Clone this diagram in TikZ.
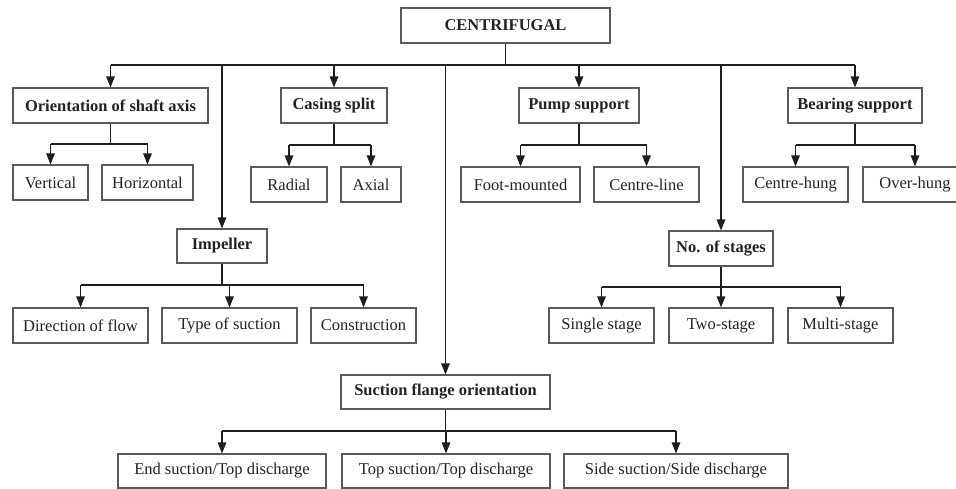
\documentclass[tikz,border=0pt]{standalone}
\usepackage{fontspec}
\setmainfont{Liberation Serif}
\usetikzlibrary{arrows.meta}
\definecolor{boxline}{HTML}{5A5A5A}
\definecolor{conn}{HTML}{1E1E1E}
\definecolor{txt}{HTML}{222222}
\tikzset{
  box/.style={draw=boxline, line width=1.1pt, rectangle, inner sep=0pt, text=txt,
    font=\fontsize{16.5}{19}\selectfont, minimum height=35pt},
  hd/.style={box, font=\fontsize{16.5}{19}\selectfont\bfseries},
  ln/.style={draw=conn, line width=1.3pt},
  arr/.style={ln, -{Triangle[width=8.5pt,length=11pt]}}
}
\begin{document}
\begin{tikzpicture}[x=1pt,y=-1pt]
\useasboundingbox[fill=white] (0,0) rectangle (956,489);
% top
\node[hd, minimum width=209pt] (root) at (505.5,25.5) {CENTRIFUGAL};
\node[hd, minimum width=195pt] (orient) at (110.5,105.5) {Orientation of shaft axis};
\node[hd, minimum width=106pt] (casing) at (334,105.5) {Casing split};
\node[hd, minimum width=120pt] (pump) at (579,105.5) {Pump support};
\node[hd, minimum width=134pt] (bearing) at (855,105.5) {Bearing support};
\node[hd, minimum width=90pt, minimum height=34pt] (impeller) at (222,246) {Impeller};
\node[hd, minimum width=104pt] (stages) at (721,248.5) {No. of stages};
\node[hd, minimum width=209pt, minimum height=34pt] (suction) at (445.5,392) {Suction flange orientation};
% leaves
\node[box, minimum width=75pt] (vert) at (50.5,182.5) {Vertical};
\node[box, minimum width=91pt] (horiz) at (147.5,182.5) {Horizontal};
\node[box, minimum width=76pt] (radial) at (289,184.5) {Radial};
\node[box, minimum width=60pt] (axial) at (371,184.5) {Axial};
\node[box, minimum width=119pt] (foot) at (520.5,184.5) {Foot-mounted};
\node[box, minimum width=105pt] (cline) at (646.5,184.5) {Centre-line};
\node[box, minimum width=105pt] (chung) at (795.5,184.5) {Centre-hung};
\node[box, minimum width=104pt] (ohung) at (915,184.5) {Over-hung};
\node[box, minimum width=135pt] (dir) at (80.5,325.5) {Direction of flow};
\node[box, minimum width=135pt] (type) at (229.5,325.5) {Type of suction};
\node[box, minimum width=105pt] (constr) at (363.5,325.5) {Construction};
\node[box, minimum width=105pt] (single) at (601.5,325.5) {Single stage};
\node[box, minimum width=104pt] (two) at (721,325.5) {Two-stage};
\node[box, minimum width=105pt] (multi) at (840.5,325.5) {Multi-stage};
\node[box, minimum width=208pt, minimum height=34pt] (endsuc) at (222,471) {End suction/Top discharge};
\node[box, minimum width=208pt, minimum height=34pt] (topsuc) at (446,471) {Top suction/Top discharge};
\node[box, minimum width=224pt, minimum height=34pt] (sidesuc) at (676,471) {Side suction/Side discharge};
% main bus
\draw[ln] (root.south) -- (root.south |- 0,65);
\draw[ln] (orient.north |- 0,65) -- (bearing.north |- 0,65);
\draw[arr] (orient.north |- 0,65) -- (orient.north);
\draw[arr] (casing.north |- 0,65) -- (casing.north);
\draw[arr] (pump.north |- 0,65) -- (pump.north);
\draw[arr] (bearing.north |- 0,65) -- (bearing.north);
\draw[arr] (impeller.north |- 0,65) -- (impeller.north);
\draw[arr] (suction.north |- 0,65) -- (suction.north);
\draw[arr] (stages.north |- 0,65) -- (stages.north);
% orientation
\draw[ln] (orient.south) -- (orient.south |- 0,144);
\draw[ln] (vert.north |- 0,144) -- (horiz.north |- 0,144);
\draw[arr] (vert.north |- 0,144) -- (vert.north);
\draw[arr] (horiz.north |- 0,144) -- (horiz.north);
% casing
\draw[ln] (casing.south) -- (casing.south |- 0,145);
\draw[ln] (radial.north |- 0,145) -- (axial.north |- 0,145);
\draw[arr] (radial.north |- 0,145) -- (radial.north);
\draw[arr] (axial.north |- 0,145) -- (axial.north);
% pump
\draw[ln] (pump.south) -- (pump.south |- 0,145);
\draw[ln] (foot.north |- 0,145) -- (cline.north |- 0,145);
\draw[arr] (foot.north |- 0,145) -- (foot.north);
\draw[arr] (cline.north |- 0,145) -- (cline.north);
% bearing
\draw[ln] (bearing.south) -- (bearing.south |- 0,145);
\draw[ln] (chung.north |- 0,145) -- (ohung.north |- 0,145);
\draw[arr] (chung.north |- 0,145) -- (chung.north);
\draw[arr] (ohung.north |- 0,145) -- (ohung.north);
% impeller
\draw[ln] (impeller.south) -- (impeller.south |- 0,285);
\draw[ln] (dir.north |- 0,285) -- (constr.north |- 0,285);
\draw[arr] (dir.north |- 0,285) -- (dir.north);
\draw[arr] (type.north |- 0,285) -- (type.north);
\draw[arr] (constr.north |- 0,285) -- (constr.north);
% stages
\draw[ln] (stages.south) -- (stages.south |- 0,287);
\draw[ln] (single.north |- 0,287) -- (multi.north |- 0,287);
\draw[arr] (single.north |- 0,287) -- (single.north);
\draw[arr] (two.north |- 0,287) -- (two.north);
\draw[arr] (multi.north |- 0,287) -- (multi.north);
% suction
\draw[ln] (suction.south) -- (suction.south |- 0,431);
\draw[ln] (endsuc.north |- 0,431) -- (sidesuc.north |- 0,431);
\draw[arr] (endsuc.north |- 0,431) -- (endsuc.north);
\draw[arr] (topsuc.north |- 0,431) -- (topsuc.north);
\draw[arr] (sidesuc.north |- 0,431) -- (sidesuc.north);
\end{tikzpicture}
\end{document}
